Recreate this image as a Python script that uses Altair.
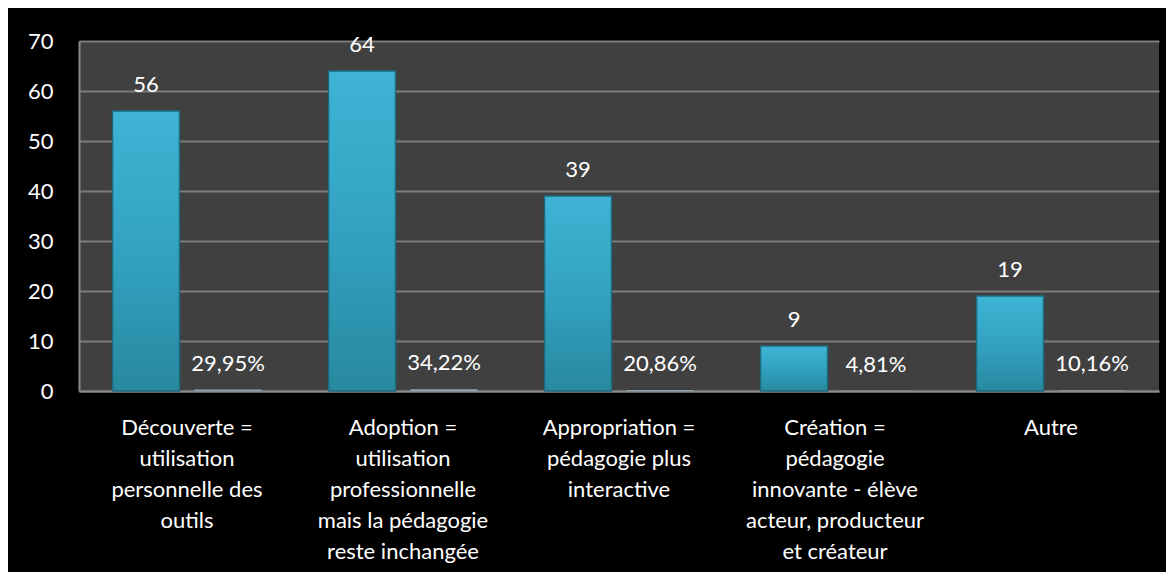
import altair as alt
import pandas as pd

categories = [
    "Découverte =\nutilisation\npersonnelle des\noutils",
    "Adoption =\nutilisation\nprofessionnelle\nmais la pédagogie\nreste inchangée",
    "Appropriation =\npédagogie plus\ninteractive",
    "Création =\npédagogie\ninnovante - élève\nacteur, producteur\net créateur",
    "Autre",
]
counts = [56, 64, 39, 9, 19]
percents = [0.2995, 0.3422, 0.2086, 0.0481, 0.1016]
series = ["count", "pct"]
y_ticks = [0, 10, 20, 30, 40, 50, 60, 70]

rows = []
for c, n, p in zip(categories, counts, percents):
    rows.append({"cat": c, "series": "count", "value": n, "label": str(n)})
    rows.append({"cat": c, "series": "pct", "value": p,
                 "label": f"{p*100:.2f}%".replace(".", ",")})
df = pd.DataFrame(rows)

FONT = "Lato"
FS = 22

x_enc = alt.X("cat:N", sort=categories, title=None,
              scale=alt.Scale(paddingInner=0, paddingOuter=0),
              axis=alt.Axis(labelExpr="split(datum.label, '\\n')",
                            labelColor="white", labelFont=FONT, labelFontSize=FS,
                            labelLineHeight=31, labelPadding=26, ticks=False,
                            labelAngle=0, labelBaseline="top",
                            domainColor="#8a8a8a", domainWidth=2,
                            labelLimit=300, grid=False))
xo_enc = alt.XOffset("series:N", sort=series,
                     scale=alt.Scale(domain=series, paddingInner=0.183, paddingOuter=0.409))
y_enc = alt.Y("value:Q", title=None,
              scale=alt.Scale(domain=[0, 70], nice=False),
              axis=alt.Axis(values=y_ticks, labelColor="white", labelFont=FONT,
                            labelFontSize=FS, labelPadding=26, ticks=False,
                            domainColor="#8a8a8a", domainWidth=2,
                            gridColor="#7d7d7d", gridWidth=2))

base = alt.Chart(df).encode(x=x_enc, xOffset=xo_enc, y=y_enc)

bar_grad = alt.Gradient(
    gradient="linear",
    stops=[alt.GradientStop(color="#3fb4d4", offset=0),
           alt.GradientStop(color="#32a2c2", offset=0.5),
           alt.GradientStop(color="#28899f", offset=1)],
    x1=0, x2=0, y1=0, y2=1)

count_bars = base.transform_filter("datum.series == 'count'").mark_bar(
    fill=bar_grad, stroke="#1d6a80", strokeWidth=1.5)
pct_bars = base.transform_filter("datum.series == 'pct'").mark_bar(
    color="#8aa6b5")
labels = base.mark_text(color="white", font=FONT, fontSize=FS,
                        baseline="middle", dy=-26).encode(text="label:N")

chart = alt.layer(count_bars, pct_bars, labels).properties(
    width=1080, height=350, background="black",
    padding={"left": 71, "top": 33, "right": 7, "bottom": 181},
    autosize=alt.AutoSizeParams(type="none"),
).configure_view(fill="#404040", stroke=None)

chart.save("out.html", embed_options={"renderer": "svg", "actions": False})
